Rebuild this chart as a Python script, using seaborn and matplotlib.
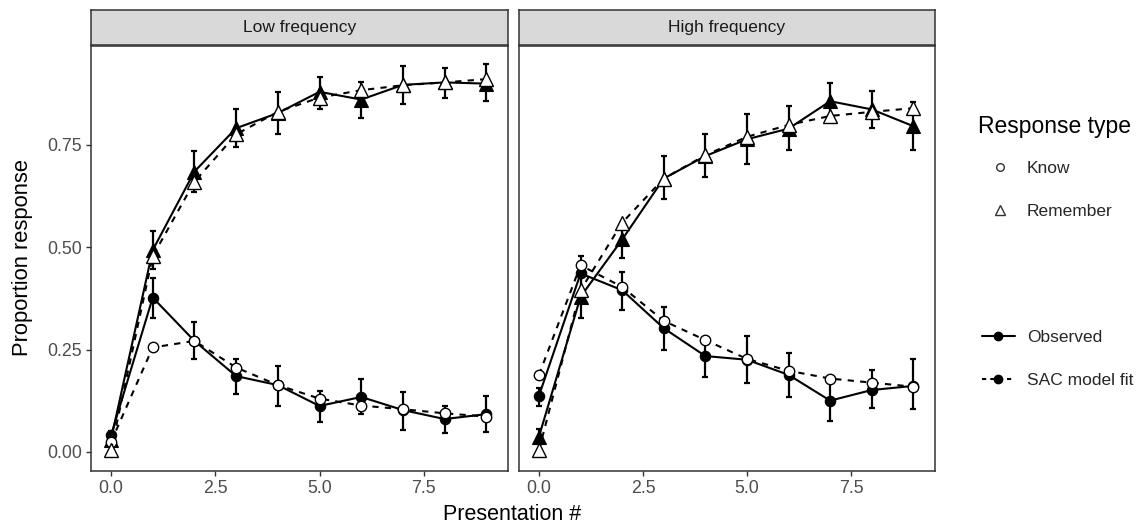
import numpy as np
import pandas as pd
import matplotlib
matplotlib.use("Agg")
import matplotlib.pyplot as plt
import seaborn as sns
from matplotlib.lines import Line2D

# ---- data -------------------------------------------------------------
presentation = list(range(10))
panels = ["Low frequency", "High frequency"]
response_types = ["Know", "Remember"]
sources = ["Observed", "SAC model fit"]

# Low frequency
know_obs_low = [0.040, 0.377, 0.271, 0.185, 0.163, 0.112, 0.134, 0.102, 0.080, 0.092]
know_obs_low_lo = [0.030, 0.326, 0.228, 0.141, 0.112, 0.072, 0.092, 0.053, 0.047, 0.049]
know_obs_low_hi = [0.050, 0.426, 0.318, 0.228, 0.210, 0.149, 0.179, 0.145, 0.112, 0.137]
know_fit_low = [0.024, 0.255, 0.271, 0.206, 0.163, 0.130, 0.113, 0.104, 0.094, 0.086]

rem_obs_low = [0.030, 0.493, 0.685, 0.791, 0.828, 0.880, 0.861, 0.897, 0.903, 0.900]
rem_obs_low_lo = [0.020, 0.446, 0.636, 0.746, 0.776, 0.838, 0.817, 0.850, 0.866, 0.858]
rem_obs_low_hi = [0.040, 0.540, 0.735, 0.838, 0.879, 0.917, 0.905, 0.943, 0.939, 0.947]
rem_fit_low = [0.004, 0.478, 0.660, 0.776, 0.831, 0.866, 0.884, 0.896, 0.903, 0.911]

# High frequency
know_obs_high = [0.137, 0.436, 0.395, 0.302, 0.234, 0.225, 0.188, 0.125, 0.151, 0.161]
know_obs_high_lo = [0.112, 0.392, 0.346, 0.250, 0.183, 0.169, 0.135, 0.076, 0.108, 0.104]
know_obs_high_hi = [0.155, 0.478, 0.439, 0.355, 0.273, 0.284, 0.241, 0.167, 0.200, 0.226]
know_fit_high = [0.188, 0.456, 0.403, 0.320, 0.273, 0.227, 0.198, 0.179, 0.169, 0.159]

rem_obs_high = [0.037, 0.379, 0.519, 0.668, 0.723, 0.764, 0.790, 0.857, 0.837, 0.796]
rem_obs_high_lo = [0.020, 0.326, 0.473, 0.617, 0.671, 0.703, 0.738, 0.811, 0.791, 0.738]
rem_obs_high_hi = [0.055, 0.430, 0.546, 0.723, 0.777, 0.825, 0.845, 0.901, 0.882, 0.856]
rem_fit_high = [0.004, 0.395, 0.560, 0.668, 0.725, 0.770, 0.799, 0.821, 0.831, 0.840]

x_ticks = [0, 2.5, 5, 7.5]
x_tick_labels = ["0.0", "2.5", "5.0", "7.5"]
y_ticks = [0, 0.25, 0.5, 0.75]
y_tick_labels = ["0.00", "0.25", "0.50", "0.75"]

# ---- long table ----------------------------------------------------------
rows = []
def add(panel, rtype, source, vals, lo=None, hi=None):
    for i, x in enumerate(presentation):
        rows.append(dict(panel=panel, rtype=rtype, source=source, x=x, y=vals[i],
                         lo=np.nan if lo is None else lo[i],
                         hi=np.nan if hi is None else hi[i]))

add("Low frequency", "Know", "Observed", know_obs_low, know_obs_low_lo, know_obs_low_hi)
add("Low frequency", "Know", "SAC model fit", know_fit_low)
add("Low frequency", "Remember", "Observed", rem_obs_low, rem_obs_low_lo, rem_obs_low_hi)
add("Low frequency", "Remember", "SAC model fit", rem_fit_low)
add("High frequency", "Know", "Observed", know_obs_high, know_obs_high_lo, know_obs_high_hi)
add("High frequency", "Know", "SAC model fit", know_fit_high)
add("High frequency", "Remember", "Observed", rem_obs_high, rem_obs_high_lo, rem_obs_high_hi)
add("High frequency", "Remember", "SAC model fit", rem_fit_high)
df = pd.DataFrame(rows)

# ---- styling ---------------------------------------------------------------
sns.set_theme(style="white")
plt.rcParams["font.family"] = ["Liberation Sans", "DejaVu Sans"]

W, H = 1138, 527
fig = plt.figure(figsize=(W / 100, H / 100), dpi=100)
fig.patch.set_facecolor("white")

def fx(px):
    return px / W

def fy(py):
    return 1 - py / H

panel_px = {"Low frequency": (91, 508), "High frequency": (519, 935)}
top_px, bot_px, strip_top_px = 46, 471, 10

marker_of = {"Know": "o", "Remember": "^"}
msize = {"Know": 7.5, "Remember": 9.5}
BORDER = "#333333"
TICKTXT = "#4D4D4D"

axes = {}
for p in panels:
    x0, x1 = panel_px[p]
    ax = fig.add_axes([fx(x0), fy(bot_px), fx(x1 - x0), (bot_px - top_px) / H])
    axes[p] = ax
    sub_p = df[df.panel == p]

    # observed: solid lines, filled markers, error bars
    for rt in response_types:
        s = sub_p[(sub_p.rtype == rt) & (sub_p.source == "Observed")]
        ax.errorbar(s.x, s.y, yerr=[s.y - s.lo, s.hi - s.y], fmt="none",
                    ecolor="black", elinewidth=1.6, capsize=2.2, capthick=1.6, zorder=2)
        sns.lineplot(data=s, x="x", y="y", ax=ax, color="black", lw=1.5,
                     marker=marker_of[rt], markersize=msize[rt],
                     markerfacecolor="black", markeredgecolor="black",
                     markeredgewidth=0.8, errorbar=None, legend=False, zorder=3)
    # model fit: dashed lines, open markers
    for rt in response_types:
        s = sub_p[(sub_p.rtype == rt) & (sub_p.source == "SAC model fit")]
        sns.lineplot(data=s, x="x", y="y", ax=ax, color="black", lw=1.5,
                     linestyle=(0, (3, 3)), marker=marker_of[rt], markersize=msize[rt],
                     markerfacecolor="white", markeredgecolor="black",
                     markeredgewidth=1.0, errorbar=None, legend=False, zorder=4)

    ax.set_xlim(-0.48, 9.52)
    ax.set_ylim(-0.047, 0.992)
    ax.set_xticks(x_ticks)
    ax.set_xticklabels(x_tick_labels)
    ax.set_yticks(y_ticks)
    ax.set_yticklabels(y_tick_labels)
    ax.set_xlabel("")
    ax.set_ylabel("")
    ax.grid(False)
    ax.set_facecolor("white")
    for sp in ax.spines.values():
        sp.set_visible(True)
        sp.set_color(BORDER)
        sp.set_linewidth(1.1)
    ax.tick_params(axis="both", which="both", direction="out", length=3.8, width=1.0,
                   color=BORDER, labelcolor=TICKTXT, labelsize=12.8, pad=2.5,
                   bottom=True, left=True)

    # facet strip
    sax = fig.add_axes([fx(x0), fy(top_px - 1), fx(x1 - x0), (top_px - 1 - strip_top_px) / H])
    sax.set_facecolor("#D9D9D9")
    sax.set_xticks([])
    sax.set_yticks([])
    for sp in sax.spines.values():
        sp.set_visible(True)
        sp.set_color(BORDER)
        sp.set_linewidth(1.1)
    sax.text(0.5, 0.5, p, ha="center", va="center", fontsize=12.5, color="#1A1A1A",
             transform=sax.transAxes)

axes["High frequency"].tick_params(axis="y", left=False, labelleft=False)

# axis titles
fig.text(fx(512), fy(515), "Presentation #", ha="center", va="center", fontsize=15.5,
         color="black")
fig.text(fx(23), fy(257), "Proportion response", ha="center", va="center",
         rotation=90, fontsize=15.8, color="black")

# legends
fig.text(fx(978), fy(127), "Response type", ha="left", va="center", fontsize=16.5,
         color="black")
type_handles = [
    Line2D([], [], linestyle="none", marker="o", markersize=5.5, markerfacecolor="white",
           markeredgecolor="#333333", markeredgewidth=1.0, label="Know"),
    Line2D([], [], linestyle="none", marker="^", markersize=7, markerfacecolor="white",
           markeredgecolor="#333333", markeredgewidth=1.0, label="Remember"),
]
leg1 = fig.legend(handles=type_handles, loc="upper left",
                  bbox_to_anchor=(fx(981), fy(154)), frameon=False, fontsize=12.5,
                  labelspacing=1.6, handlelength=1.38, handletextpad=0.86,
                  borderaxespad=0)

src_handles = [
    Line2D([], [], color="black", lw=1.5, linestyle="-", marker="o", markersize=6,
           markerfacecolor="black", label="Observed"),
    Line2D([], [], color="black", lw=1.5, linestyle=(0, (2, 2)), marker="o", markersize=6,
           markerfacecolor="black", label="SAC model fit"),
]
leg2 = fig.legend(handles=src_handles, loc="upper left",
                  bbox_to_anchor=(fx(975), fy(323)), frameon=False, fontsize=12.5,
                  labelspacing=1.6, handlelength=1.9, handletextpad=0.69,
                  borderaxespad=0)

fig.savefig("out.png", dpi=100, facecolor="white")
